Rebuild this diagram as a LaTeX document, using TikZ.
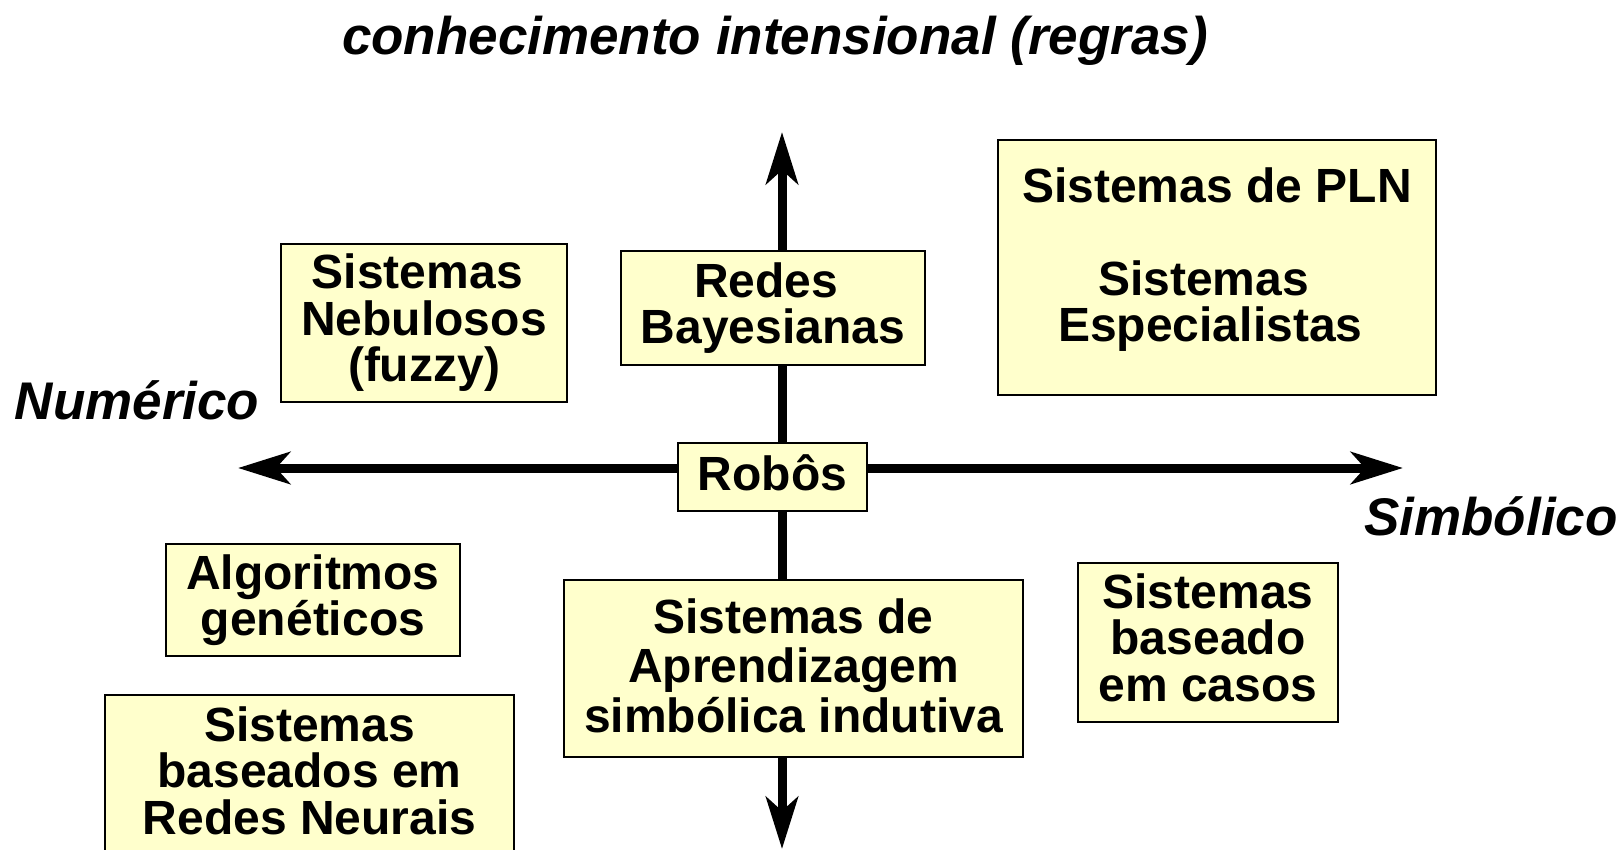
\documentclass[tikz,border=0pt]{standalone}
\usepackage{fontspec}
\setmainfont{Liberation Sans}
\usetikzlibrary{arrows.meta}
\definecolor{boxfill}{HTML}{FFFFCC}
\newcommand{\tsp}{\kern0.278em}
\tikzset{
  axis/.style={line width=9pt, {Stealth[length=52pt,width=32pt,inset=14pt]}-{Stealth[length=52pt,width=32pt,inset=14pt]}},
  qbox/.style={draw=black, line width=1.6pt, fill=boxfill, inner sep=0pt},
  qtext/.style={inner sep=0pt, align=center, font=\fontsize{48}{46.5}\selectfont\bfseries},
  biglabel/.style={inner sep=0pt, anchor=base, font=\fontsize{53}{60}\selectfont\bfseries\itshape}
}
\begin{document}
\begin{tikzpicture}[x=1pt,y=-1pt]
\useasboundingbox (0,0) rectangle (1621,849);
\clip (0,0) rectangle (1621,849);
% axes end points
\coordinate (top) at (782,132);
\coordinate (bottom) at (782,849);
\coordinate (left) at (238,468);
\coordinate (right) at (1403,468);
\draw[axis] (left) -- (right);
\draw[axis] (top) -- (bottom);
% labels
\node[biglabel] (title) at (775,54) {conhecimento intensional (regras)};
\node[biglabel] (num) at (137,419) {Numérico};
\node[biglabel] (sim) at (1491,535) {Simbólico};
% boxes
\node[qbox, minimum width=286pt, minimum height=158pt] (nebbox) at (424,323) {};
\node[qtext] (neb) at (nebbox.center) {Sistemas\tsp\\ Nebulosos\\ (fuzzy)};
\node[qbox, minimum width=304pt, minimum height=114pt] (baybox) at (773,308) {};
\node[qtext] (bay) at (baybox.center) {Redes\tsp\\ Bayesianas};
\node[qbox, minimum width=438pt, minimum height=255pt] (plnbox) at (1217,267.5) {};
\node[qtext, yshift=8pt] (pln) at (plnbox.center) {Sistemas de PLN\\[46.5pt] Sistemas\tsp\tsp\\ Especialistas\tsp};
\node[qbox, minimum width=189pt, minimum height=68pt] (robbox) at (772.5,477) {};
\node[qtext, yshift=4pt] (rob) at (robbox.center) {Robôs};
\node[qbox, minimum width=294pt, minimum height=112pt] (algbox) at (313,600) {};
\node[qtext] (alg) at (algbox.center) {Algoritmos\\ genéticos};
\node[qbox, minimum width=459pt, minimum height=177pt] (aprbox) at (793.5,668.5) {};
\node[qtext, yshift=3pt, font=\fontsize{48}{49.6}\selectfont\bfseries] (apr) at (aprbox.center) {Sistemas de\\ Aprendizagem\\ simbólica indutiva};
\node[qbox, minimum width=260pt, minimum height=159pt] (cbrbox) at (1208,642.5) {};
\node[qtext, yshift=5pt] (cbr) at (cbrbox.center) {Sistemas\\ baseado\\ em casos};
\node[qbox, minimum width=409pt, minimum height=157pt] (rnbox) at (309.5,773.5) {};
\node[qtext, yshift=3pt] (rn) at (rnbox.center) {Sistemas\\ baseados em\\ Redes Neurais};
\end{tikzpicture}
\end{document}
